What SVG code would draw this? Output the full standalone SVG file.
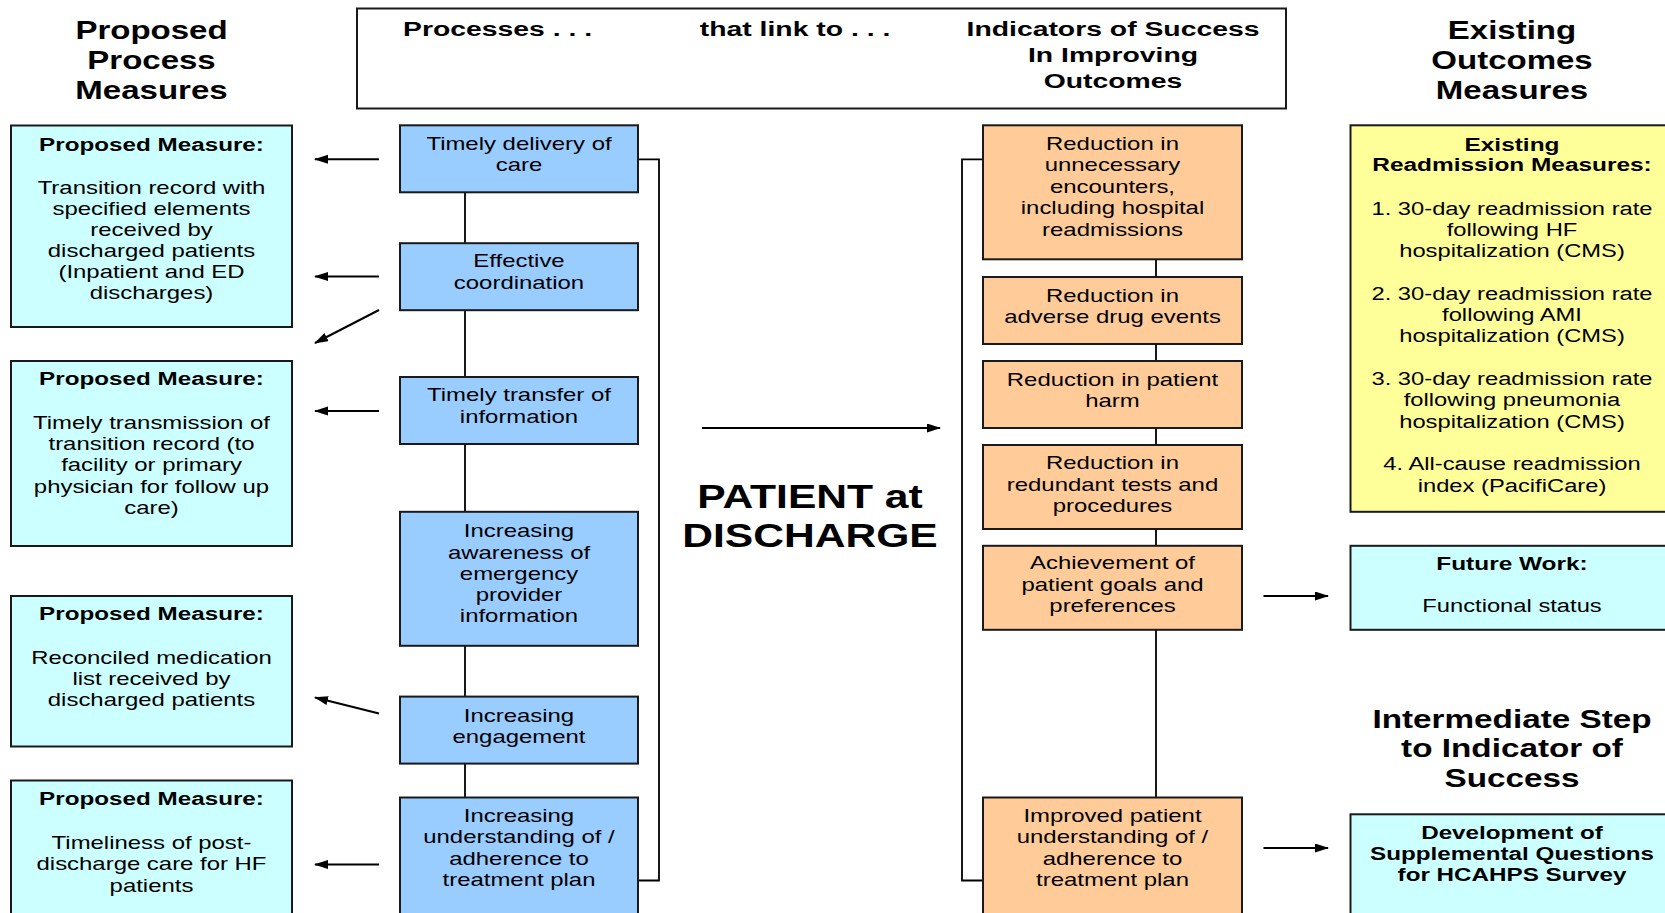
<svg xmlns="http://www.w3.org/2000/svg" width="1665" height="913" viewBox="0 0 1665 913">
<style>
text{font-family:"Liberation Sans",Arial,sans-serif;fill:#000;text-anchor:middle}
.r{font-size:18px}
.b{font-size:18.5px;font-weight:bold}
.h{font-size:26px;font-weight:bold}
.hd{font-size:21px;font-weight:bold}
.big{font-size:33px;font-weight:bold}
.box{stroke:#1a1a1a;stroke-width:2}
.cyan{fill:#CCFFFF}.blue{fill:#99CCFF}.orange{fill:#FFCC99}.yellow{fill:#FFFF99}.white{fill:#fff}
.ln{stroke:#000;stroke-width:1.8;fill:none}
.ar{stroke:#000;stroke-width:2;fill:none;marker-end:url(#ah)}
</style>
<defs>
<marker id="ah" markerUnits="userSpaceOnUse" markerWidth="16" markerHeight="12" refX="13" refY="4.5" orient="auto"><path d="M0,0 L14,4.5 L0,9 z" fill="#000"/></marker>
</defs>
<rect width="1665" height="913" fill="#fff"/>

<g id="connectors">
<line class="ln" x1="465" y1="192" x2="465" y2="798"/>
<polyline class="ln" points="638,159.3 659,159.3 659,880.5 638,880.5"/>
<line class="ln" x1="1156" y1="259" x2="1156" y2="798"/>
<polyline class="ln" points="983,159.3 962,159.3 962,880.5 983,880.5"/>
<line class="ar" x1="379" y1="159.3" x2="315" y2="159.3"/>
<line class="ar" x1="379" y1="276.5" x2="315" y2="276.5"/>
<line class="ar" x1="379" y1="310" x2="315" y2="343"/>
<line class="ar" x1="379" y1="411" x2="315" y2="411"/>
<line class="ar" x1="379" y1="713.5" x2="315" y2="697.5"/>
<line class="ar" x1="379" y1="864.5" x2="315" y2="864.5"/>
<line class="ar" x1="702" y1="428" x2="940" y2="428"/>
<line class="ar" x1="1263.5" y1="596" x2="1328" y2="596"/>
<line class="ar" x1="1263.5" y1="848" x2="1328" y2="848"/>
</g>

<g id="heading-left" transform="translate(151.5,0) scale(1.27,1)">
<text class="h" x="0" y="39.5">Proposed</text>
<text class="h" x="0" y="69.5">Process</text>
<text class="h" x="0" y="99">Measures</text>
</g>

<g id="header">
<rect class="box white" x="357" y="8.5" width="929" height="100"/>
<g transform="translate(497.5,0) scale(1.35,1)"><text class="hd" x="0" y="36">Processes . . .</text></g>
<g transform="translate(795,0) scale(1.35,1)"><text class="hd" x="0" y="36">that link to . . .</text></g>
<g transform="translate(1113,0) scale(1.35,1)">
<text class="hd" x="0" y="36">Indicators of Success</text>
<text class="hd" x="0" y="62">In Improving</text>
<text class="hd" x="0" y="88">Outcomes</text>
</g>
</g>

<g id="measure1">
<rect class="box cyan" x="11" y="125.5" width="281" height="201.5"/>
<g transform="translate(151.5,0) scale(1.33,1)">
<text class="b" x="0" y="150.7" transform="scale(0.985,1)">Proposed Measure:</text>
<text class="r" x="0" y="194">Transition record with</text>
<text class="r" x="0" y="215">specified elements</text>
<text class="r" x="0" y="236">received by</text>
<text class="r" x="0" y="257">discharged patients</text>
<text class="r" x="0" y="278">(Inpatient and ED</text>
<text class="r" x="0" y="299">discharges)</text>
</g>
</g>

<g id="measure2">
<rect class="box cyan" x="11" y="361" width="281" height="185"/>
<g transform="translate(151.5,0) scale(1.33,1)">
<text class="b" x="0" y="385" transform="scale(0.985,1)">Proposed Measure:</text>
<text class="r" x="0" y="429">Timely transmission of</text>
<text class="r" x="0" y="450">transition record (to</text>
<text class="r" x="0" y="471.5">facility or primary</text>
<text class="r" x="0" y="493">physician for follow up</text>
<text class="r" x="0" y="514">care)</text>
</g>
</g>

<g id="measure3">
<rect class="box cyan" x="11" y="596" width="281" height="150.5"/>
<g transform="translate(151.5,0) scale(1.33,1)">
<text class="b" x="0" y="620.5" transform="scale(0.985,1)">Proposed Measure:</text>
<text class="r" x="0" y="664">Reconciled medication</text>
<text class="r" x="0" y="685">list received by</text>
<text class="r" x="0" y="706.5">discharged patients</text>
</g>
</g>

<g id="measure4">
<rect class="box cyan" x="11" y="780.5" width="281" height="150"/>
<g transform="translate(151.5,0) scale(1.33,1)">
<text class="b" x="0" y="805" transform="scale(0.985,1)">Proposed Measure:</text>
<text class="r" x="0" y="849.5">Timeliness of post-</text>
<text class="r" x="0" y="870.5">discharge care for HF</text>
<text class="r" x="0" y="892">patients</text>
</g>
</g>

<g id="process1">
<rect class="box blue" x="400" y="125.3" width="238" height="67"/>
<g transform="translate(519,0) scale(1.33,1)">
<text class="r" x="0" y="150">Timely delivery of</text>
<text class="r" x="0" y="171.5">care</text>
</g>
</g>
<g id="process2">
<rect class="box blue" x="400" y="243.2" width="238" height="67"/>
<g transform="translate(519,0) scale(1.33,1)">
<text class="r" x="0" y="267.5">Effective</text>
<text class="r" x="0" y="289">coordination</text>
</g>
</g>
<g id="process3">
<rect class="box blue" x="400" y="377" width="238" height="67"/>
<g transform="translate(519,0) scale(1.33,1)">
<text class="r" x="0" y="401.5">Timely transfer of</text>
<text class="r" x="0" y="423">information</text>
</g>
</g>
<g id="process4">
<rect class="box blue" x="400" y="511.8" width="238" height="134"/>
<g transform="translate(519,0) scale(1.33,1)">
<text class="r" x="0" y="537.5">Increasing</text>
<text class="r" x="0" y="558.7">awareness of</text>
<text class="r" x="0" y="580">emergency</text>
<text class="r" x="0" y="601">provider</text>
<text class="r" x="0" y="622">information</text>
</g>
</g>
<g id="process5">
<rect class="box blue" x="400" y="696.6" width="238" height="67"/>
<g transform="translate(519,0) scale(1.33,1)">
<text class="r" x="0" y="722">Increasing</text>
<text class="r" x="0" y="743.5">engagement</text>
</g>
</g>
<g id="process6">
<rect class="box blue" x="400" y="797.5" width="238" height="130"/>
<g transform="translate(519,0) scale(1.33,1)">
<text class="r" x="0" y="822">Increasing</text>
<text class="r" x="0" y="843.5">understanding of /</text>
<text class="r" x="0" y="865">adherence to</text>
<text class="r" x="0" y="886.5">treatment plan</text>
</g>
</g>

<g id="patient" transform="translate(810,0) scale(1.29,1)">
<text class="big" x="0" y="508">PATIENT at</text>
<text class="big" x="0" y="547">DISCHARGE</text>
</g>

<g id="outcome1">
<rect class="box orange" x="983" y="125.3" width="259" height="134"/>
<g transform="translate(1112.5,0) scale(1.33,1)">
<text class="r" x="0" y="150">Reduction in</text>
<text class="r" x="0" y="171.5">unnecessary</text>
<text class="r" x="0" y="193">encounters,</text>
<text class="r" x="0" y="214.5">including hospital</text>
<text class="r" x="0" y="236">readmissions</text>
</g>
</g>
<g id="outcome2">
<rect class="box orange" x="983" y="277" width="259" height="67"/>
<g transform="translate(1112.5,0) scale(1.33,1)">
<text class="r" x="0" y="301.7">Reduction in</text>
<text class="r" x="0" y="323">adverse drug events</text>
</g>
</g>
<g id="outcome3">
<rect class="box orange" x="983" y="361" width="259" height="67"/>
<g transform="translate(1112.5,0) scale(1.33,1)">
<text class="r" x="0" y="385.6">Reduction in patient</text>
<text class="r" x="0" y="406.8">harm</text>
</g>
</g>
<g id="outcome4">
<rect class="box orange" x="983" y="445" width="259" height="84"/>
<g transform="translate(1112.5,0) scale(1.33,1)">
<text class="r" x="0" y="469.5">Reduction in</text>
<text class="r" x="0" y="490.7">redundant tests and</text>
<text class="r" x="0" y="512">procedures</text>
</g>
</g>
<g id="outcome5">
<rect class="box orange" x="983" y="545.8" width="259" height="84"/>
<g transform="translate(1112.5,0) scale(1.33,1)">
<text class="r" x="0" y="569.3">Achievement of</text>
<text class="r" x="0" y="591">patient goals and</text>
<text class="r" x="0" y="612.5">preferences</text>
</g>
</g>
<g id="outcome6">
<rect class="box orange" x="983" y="797.5" width="259" height="130"/>
<g transform="translate(1112.5,0) scale(1.33,1)">
<text class="r" x="0" y="822">Improved patient</text>
<text class="r" x="0" y="843.3">understanding of /</text>
<text class="r" x="0" y="865">adherence to</text>
<text class="r" x="0" y="886.5">treatment plan</text>
</g>
</g>

<g id="heading-right" transform="translate(1512,0) scale(1.27,1)">
<text class="h" x="0" y="39.5">Existing</text>
<text class="h" x="0" y="69.5">Outcomes</text>
<text class="h" x="0" y="99">Measures</text>
</g>

<g id="existing">
<rect class="box yellow" x="1350.5" y="125.3" width="330" height="386.5"/>
<g transform="translate(1512,0) scale(1.32,1)">
<text class="b" x="0" y="150.7">Existing</text>
<text class="b" x="0" y="171.5">Readmission Measures:</text>
<text class="r" x="0" y="215">1. 30-day readmission rate</text>
<text class="r" x="0" y="236">following HF</text>
<text class="r" x="0" y="257">hospitalization (CMS)</text>
<text class="r" x="0" y="300">2. 30-day readmission rate</text>
<text class="r" x="0" y="321">following AMI</text>
<text class="r" x="0" y="342.5">hospitalization (CMS)</text>
<text class="r" x="0" y="385">3. 30-day readmission rate</text>
<text class="r" x="0" y="406">following pneumonia</text>
<text class="r" x="0" y="428">hospitalization (CMS)</text>
<text class="r" x="0" y="470.5">4. All-cause readmission</text>
<text class="r" x="0" y="492.5">index (PacifiCare)</text>
</g>
</g>

<g id="future">
<rect class="box cyan" x="1350.5" y="545.8" width="330" height="84"/>
<g transform="translate(1512,0) scale(1.32,1)">
<text class="b" x="0" y="570">Future Work:</text>
<text class="r" x="0" y="612.5">Functional status</text>
</g>
</g>

<g id="heading-intermediate" transform="translate(1512,0) scale(1.28,1)">
<text class="h" x="0" y="728.3">Intermediate Step</text>
<text class="h" x="0" y="757.3">to Indicator of</text>
<text class="h" x="0" y="786.7">Success</text>
</g>

<g id="development">
<rect class="box cyan" x="1350.5" y="814.3" width="330" height="120"/>
<g transform="translate(1512,0) scale(1.31,1)">
<text class="b" x="0" y="839.3">Development of</text>
<text class="b" x="0" y="860.3">Supplemental Questions</text>
<text class="b" x="0" y="881.5">for HCAHPS Survey</text>
</g>
</g>
</svg>
